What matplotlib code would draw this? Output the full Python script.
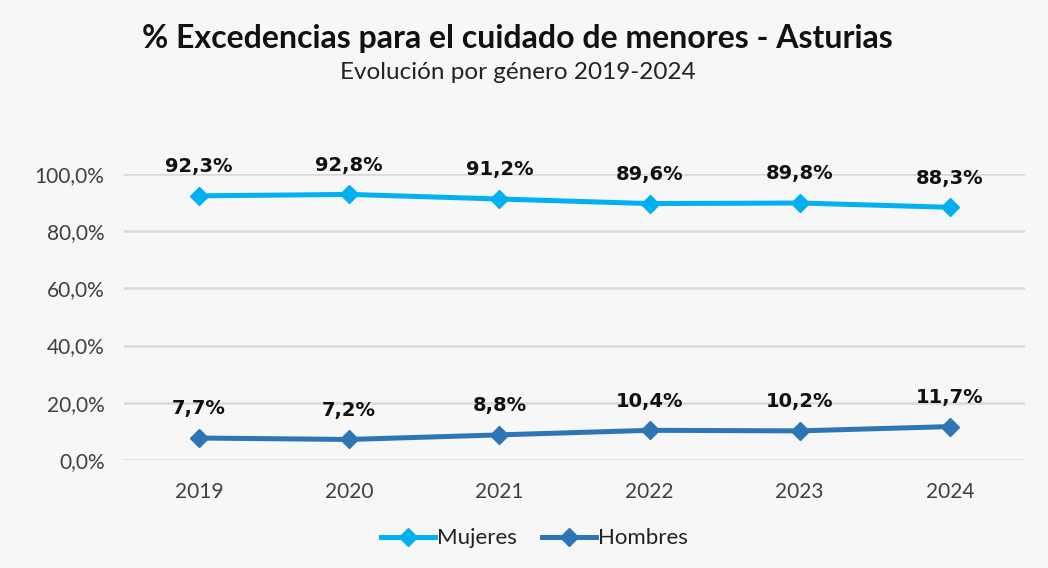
import matplotlib
matplotlib.use("Agg")
import matplotlib.pyplot as plt
from matplotlib.ticker import FuncFormatter

years = ["2019", "2020", "2021", "2022", "2023", "2024"]
mujeres = [92.3, 92.8, 91.2, 89.6, 89.8, 88.3]
hombres = [7.7, 7.2, 8.8, 10.4, 10.2, 11.7]
yticks = [0, 20, 40, 60, 80, 100]

plt.rcParams['font.family'] = ['Lato', 'DejaVu Sans']
bg = '#f7f7f7'
fig = plt.figure(figsize=(10.48, 5.68), dpi=100, facecolor=bg)
ax = fig.add_axes([0.1183, 0.190, 0.8597, 0.504], facecolor=bg)

x = list(range(len(years)))
c_m = '#00b0f0'
c_h = '#2e75b6'
ax.plot(x, mujeres, color=c_m, lw=3.6, marker='D', ms=9, label='Mujeres', clip_on=False, zorder=3)
ax.plot(x, hombres, color=c_h, lw=3.6, marker='D', ms=9, label='Hombres', clip_on=False, zorder=3)

def fmt(v):
    return f"{v:.1f}".replace('.', ',') + '%'

for series in (mujeres, hombres):
    for xi, v in zip(x, series):
        ax.annotate(fmt(v), (xi, v), xytext=(0, 17), textcoords='offset points',
                    ha='center', va='baseline', fontsize=14, fontweight='bold',
                    color='#111111', family=['DejaVu Sans'])

ax.set_xlim(-0.5, len(years) - 0.5)
ax.set_ylim(0, 100)
ax.set_yticks(yticks)
ax.yaxis.set_major_formatter(FuncFormatter(lambda v, p: f"{v:.1f}".replace('.', ',') + '%'))
ax.set_xticks(x)
ax.set_xticklabels(years)
ax.tick_params(axis='both', length=0, labelsize=15, colors='#404040')
ax.tick_params(axis='x', pad=16)
ax.tick_params(axis='y', pad=14)
ax.grid(axis='y', color='#d9d9d9', lw=1.8)
ax.set_axisbelow(True)
for s in ax.spines.values():
    s.set_visible(False)

fig.text(0.494, 0.933, '% Excedencias para el cuidado de menores - Asturias', ha='center', va='center',
         fontsize=23, fontweight='bold', color='#111111')
fig.text(0.494, 0.873, 'Evolución por género 2019-2024', ha='center', va='center',
         fontsize=17.5, color='#222222')

leg = fig.legend(loc='center', bbox_to_anchor=(0.51, 0.052), ncol=2, frameon=False,
                 fontsize=16, handlelength=2.45, columnspacing=1.1, handletextpad=0.1)
for t in leg.get_texts():
    t.set_color('#222222')

fig.savefig('out.png', dpi=100, facecolor=bg)
